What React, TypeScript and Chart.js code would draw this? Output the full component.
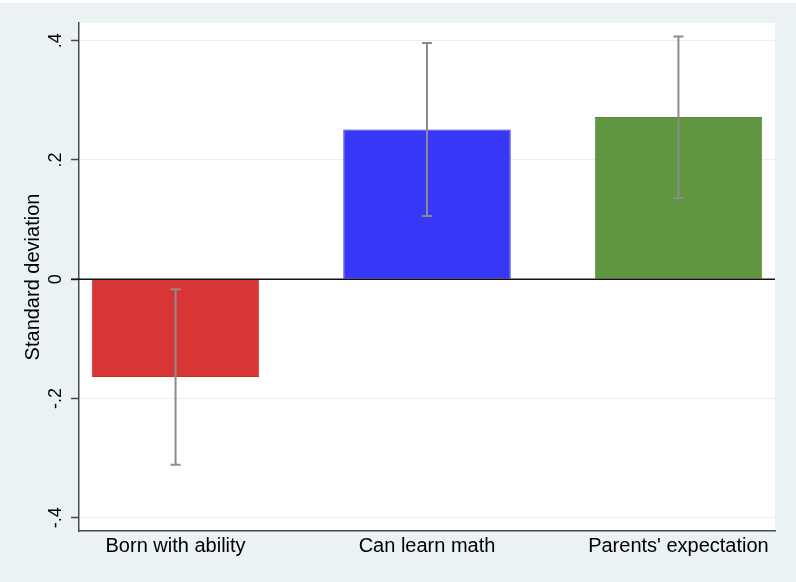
import { Chart, registerables } from "chart.js";
import { useEffect, useRef } from "react";

Chart.register(...registerables);

const categories = ["Born with ability", "Can learn math", "Parents' expectation"];
const means = [-0.164, 0.251, 0.272];
const upper = [-0.017, 0.396, 0.407];
const lower = [-0.311, 0.106, 0.136];
const yTicks = [-0.4, -0.2, 0, 0.2, 0.4];

const barColors = ["#d83636", "#3838f9", "#60963f"];
const barBorders = ["#c83030", "#2c2cd8", "#58893a"];
const bg = "#eaf2f3";

const fmtTick = (v: number) => (v === 0 ? "0" : String(v).replace("0.", "."));

const stataLook = {
  id: "stataLook",
  beforeDraw(chart: any) {
    const { ctx, chartArea } = chart;
    ctx.save();
    ctx.fillStyle = bg;
    ctx.fillRect(0, 3, chart.width, chart.height - 3);
    ctx.fillStyle = "#ffffff";
    ctx.fillRect(chartArea.left, chartArea.top, chartArea.right - chartArea.left, chartArea.bottom - chartArea.top);
    ctx.restore();
  },
  afterDatasetsDraw(chart: any) {
    const { ctx, chartArea, scales } = chart;
    const x = scales.x;
    const y = scales.y;
    ctx.save();
    // zero line
    const y0 = y.getPixelForValue(0);
    ctx.strokeStyle = "#111111";
    ctx.lineWidth = 1.5;
    ctx.beginPath();
    ctx.moveTo(chartArea.left - 8, y0);
    ctx.lineTo(chartArea.right, y0);
    ctx.stroke();
    // error bars
    ctx.strokeStyle = "#8c8c8c";
    ctx.lineWidth = 2;
    categories.forEach((_, i) => {
      const px = x.getPixelForValue(i + 1);
      const top = y.getPixelForValue(upper[i]);
      const bot = y.getPixelForValue(lower[i]);
      ctx.beginPath();
      ctx.moveTo(px, top);
      ctx.lineTo(px, bot);
      ctx.moveTo(px - 5, top);
      ctx.lineTo(px + 5, top);
      ctx.moveTo(px - 5, bot);
      ctx.lineTo(px + 5, bot);
      ctx.stroke();
    });
    ctx.restore();
  },
};

const App = () => {
  const chartRef = useRef<HTMLCanvasElement>(null);

  useEffect(() => {
    document.body.style.margin = "0";
    if (!chartRef.current) return;
    const ctx = chartRef.current.getContext("2d");
    if (!ctx) return;
    const family = "'Liberation Sans', Arial, sans-serif";
    const chart = new Chart(ctx, {
      type: "bar",
      data: {
        datasets: [
          {
            data: categories.map((_, i) => ({ x: i + 1, y: means[i] })),
            backgroundColor: barColors,
            borderColor: barBorders,
            borderWidth: 1,
            barPercentage: 0.666,
            categoryPercentage: 1,
          },
        ],
      },
      options: {
        responsive: false,
        animation: false,
        layout: { padding: { top: 23, right: 21, left: 0, bottom: 0 } },
        plugins: {
          legend: { display: false },
          tooltip: { enabled: false },
        },
        scales: {
          x: {
            type: "linear",
            offset: false,
            min: 0.616,
            max: 3.384,
            afterBuildTicks: (scale: any) => {
              scale.ticks = categories.map((_, i) => ({ value: i + 1 }));
            },
            afterFit: (scale: any) => {
              scale.height = 51;
            },
            ticks: {
              callback: (v: any) => categories[Number(v) - 1] ?? "",
              color: "#000000",
              font: { family, size: 20 },
              padding: 3,
              maxRotation: 0,
              autoSkip: false,
            },
            grid: { display: false, drawTicks: false, offset: false },
            border: { display: true, color: "#4a4a4a", width: 1.5 },
          },
          y: {
            min: -0.4223,
            max: 0.4297,
            afterBuildTicks: (scale: any) => {
              scale.ticks = yTicks.map((v) => ({ value: v }));
            },
            afterFit: (scale: any) => {
              scale.width = 79;
            },
            ticks: {
              callback: (v: any) => fmtTick(Number(v)),
              color: "#000000",
              font: { family, size: 18 },
              padding: 4.5,
              minRotation: 90,
              maxRotation: 90,
              crossAlign: "center",
            },
            grid: {
              color: (c: any) => (c.tick && c.tick.value === 0 ? "#111111" : "#e9eff1"),
              lineWidth: 1,
              tickColor: "#4a4a4a",
              tickLength: 8,
              tickWidth: 1.5,
            },
            border: { display: true, color: "#4a4a4a", width: 1.5 },
            title: {
              display: true,
              text: "Standard deviation",
              color: "#000000",
              font: { family, size: 20 },
              padding: { top: 21, bottom: 0 },
            },
          },
        },
      },
      plugins: [stataLook],
    });
    return () => chart.destroy();
  }, []);

  return <canvas ref={chartRef} width={796} height={582}></canvas>;
};

export default App;
